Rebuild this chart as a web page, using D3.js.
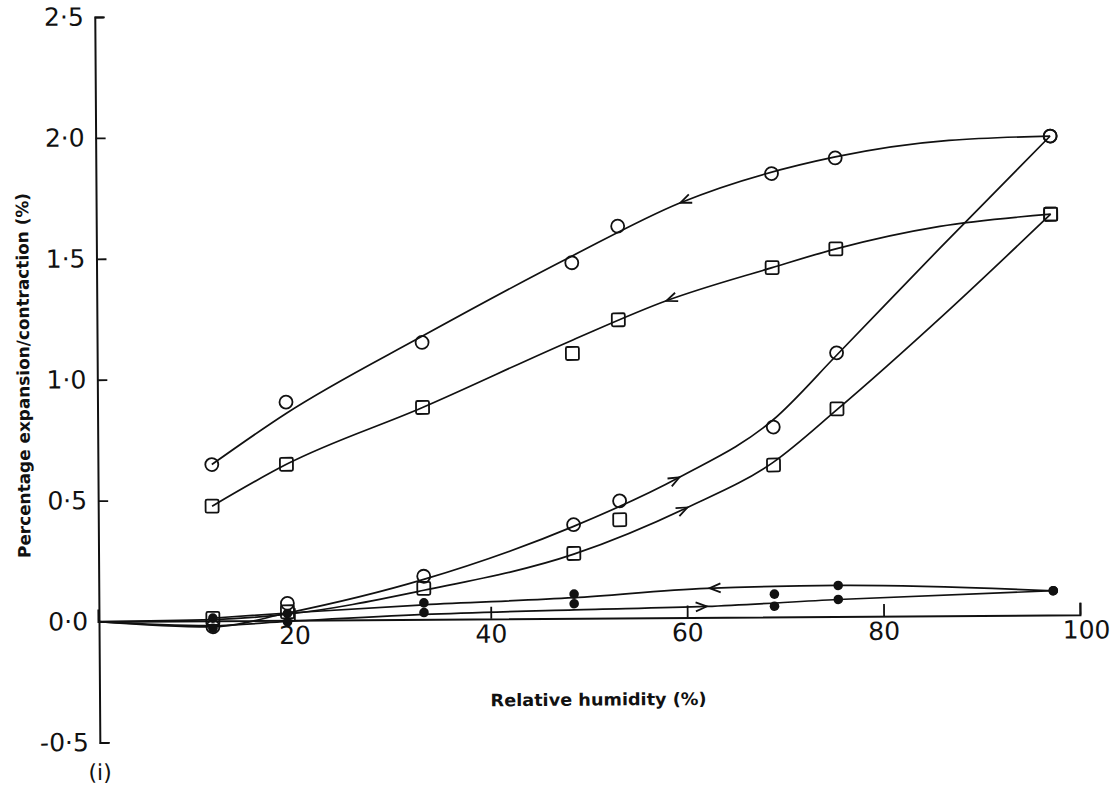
<!DOCTYPE html>
<html lang="en">
<head>
<meta charset="UTF-8">
<title>Percentage expansion/contraction vs relative humidity</title>
<script src="https://d3js.org/d3.v7.min.js"></script>
<style>
  body { margin: 0; background: #fff; }
  svg text { font-family: "DejaVu Sans", sans-serif; fill: #111; }
</style>
</head>
<body>
<svg id="chart" width="1120" height="794"></svg>
<script>
// relative humidities of the test atmospheres (%)
const rh = [11.7, 19.3, 33.2, 48.5, 53.2, 68.9, 75.4, 97.3];
const rhDots = [11.7, 19.3, 33.2, 48.5, 68.9, 75.4, 97.3];

// measured points, percentage expansion/contraction
const circleDes = [0.646, 0.902, 1.145, 1.47, 1.62, 1.833, 1.896, 1.98];
const circleSor = [-0.025, 0.07, 0.178, 0.387, 0.484, 0.785, 1.09, 1.98];
const squareDes = [0.474, 0.645, 0.876, 1.095, 1.233, 1.444, 1.52, 1.657];
const squareSor = [0.01, 0.035, 0.128, 0.268, 0.406, 0.628, 0.858, 1.657];
const dotDes = [0.011, 0.028, 0.068, 0.10, 0.094, 0.128, 0.10];
const dotSor = [-0.031, -0.007, 0.028, 0.06, 0.044, 0.07, 0.10];

// hand drawn curves through the points [rh, value]
const circleDesFit = [[11.7,0.646],[19.3,0.855],[33.2,1.17],[48.5,1.497],[59.6,1.715],[75.4,1.9],[87,1.965],[97.3,1.98]];
const squareDesFit = [[11.7,0.474],[19.3,0.645],[33.2,0.876],[48.5,1.15],[58.1,1.31],[68.9,1.444],[75.4,1.52],[86,1.61],[97.3,1.657]];
const circleSorFit = [[0,0],[11.7,-0.025],[19.3,0.03],[33.2,0.165],[48.5,0.38],[59.3,0.58],[68.9,0.815],[75.4,1.08],[86,1.52],[97.3,1.98]];
const squareSorFit = [[0,0],[11.7,0.005],[19.3,0.025],[33.2,0.12],[48.5,0.265],[60.1,0.455],[68.9,0.64],[75.4,0.855],[86.5,1.25],[97.3,1.657]];
const dotDesFit = [[11.7,0.011],[19.3,0.03],[33.2,0.06],[48.5,0.085],[62,0.12],[75.4,0.128],[97.3,0.10]];
const dotSorFit = [[0,0],[11.7,-0.02],[19.3,-0.005],[33.2,0.02],[48.5,0.035],[62,0.045],[75.4,0.07],[97.3,0.10]];

const xTicks = [20, 40, 60, 80, 100];
const yTicks = [-0.5, 0, 0.5, 1.0, 1.5, 2.0, 2.5];

const svg = d3.select("#chart");
const x = d3.scaleLinear().domain([0, 100]).range([98, 1080]);
const y = d3.scaleLinear().domain([-0.5, 2.5]).range([742.5, 17]);

// the original scan sits slightly askew
const plot = svg.append("g")
    .attr("transform", "rotate(-0.4," + x(0) + "," + y(0) + ")");

const fmt = v => (v < 0 ? "-" : "") + Math.abs(v).toFixed(1).replace(".", "\u00b7");

// y axis: ticks inside, labels outside
const yAxis = plot.append("g")
    .attr("transform", "translate(" + (x(0) + 1) + ",0)")
    .call(d3.axisLeft(y).tickValues(yTicks).tickFormat(fmt)
        .tickSizeInner(-10).tickSizeOuter(-9).tickPadding(11));

// x axis along zero
const xAxis = plot.append("g")
    .attr("transform", "translate(0," + y(0) + ")")
    .call(d3.axisBottom(x).tickValues(xTicks)
        .tickSizeInner(-12).tickSizeOuter(-12).tickPadding(6));

[yAxis, xAxis].forEach(a => {
    a.select(".domain").attr("stroke", "#111").attr("stroke-width", 2);
    a.selectAll(".tick line").attr("stroke", "#111").attr("stroke-width", 1.8);
    a.selectAll(".tick text").attr("font-size", 25).attr("fill", "#111")
        .attr("font-family", "DejaVu Sans, sans-serif");
});
xAxis.selectAll(".tick text").filter(d => d === 100).attr("dx", 6);

// curves with direction arrows
const line = d3.line()
    .x(d => x(d[0]))
    .y(d => y(d[1]))
    .curve(d3.curveMonotoneX);

const curves = [
    { pts: circleDesFit, arrow: 59.6, dir: -1 },
    { pts: squareDesFit, arrow: 58.1, dir: -1 },
    { pts: circleSorFit, arrow: 59.3, dir: 1 },
    { pts: squareSorFit, arrow: 60.1, dir: 1 },
    { pts: dotDesFit, arrow: 62.3, dir: -1 },
    { pts: dotSorFit, arrow: 62, dir: 1 }
];

curves.forEach(c => {
    const path = plot.append("path")
        .datum(c.pts)
        .attr("d", line)
        .attr("fill", "none")
        .attr("stroke", "#111")
        .attr("stroke-width", 1.7);

    // find the point on the curve at the arrow's humidity
    const node = path.node();
    const xt = x(c.arrow);
    let lo = 0, hi = node.getTotalLength();
    for (let i = 0; i < 30; i++) {
        const mid = (lo + hi) / 2;
        if (node.getPointAtLength(mid).x < xt) lo = mid; else hi = mid;
    }
    const p = node.getPointAtLength(lo);
    const a = node.getPointAtLength(lo - 4);
    const b = node.getPointAtLength(lo + 4);
    let ang = Math.atan2(b.y - a.y, b.x - a.x) * 180 / Math.PI;
    if (c.dir < 0) ang += 180;

    plot.append("path")
        .attr("d", "M-11,-4.5L0,0L-11,4.5")
        .attr("transform", "translate(" + p.x + "," + p.y + ") rotate(" + ang + ")")
        .attr("fill", "none")
        .attr("stroke", "#111")
        .attr("stroke-width", 1.8);
});

// markers
const circles = rh.map((h, i) => [h, circleDes[i]]).concat(rh.map((h, i) => [h, circleSor[i]]));
const squares = rh.map((h, i) => [h, squareDes[i]]).concat(rh.map((h, i) => [h, squareSor[i]]));
const dots = rhDots.map((h, i) => [h, dotDes[i]]).concat(rhDots.map((h, i) => [h, dotSor[i]]));

plot.selectAll(".open-circle")
    .data(circles)
    .enter()
    .append("circle")
    .attr("class", "open-circle")
    .attr("cx", d => x(d[0]))
    .attr("cy", d => y(d[1]))
    .attr("r", 6.5)
    .attr("fill", "none")
    .attr("stroke", "#111")
    .attr("stroke-width", 1.8);

plot.selectAll(".open-square")
    .data(squares)
    .enter()
    .append("rect")
    .attr("class", "open-square")
    .attr("x", d => x(d[0]) - 6.5)
    .attr("y", d => y(d[1]) - 6.5)
    .attr("width", 13)
    .attr("height", 13)
    .attr("rx", 1.5)
    .attr("fill", "none")
    .attr("stroke", "#111")
    .attr("stroke-width", 1.8);

plot.selectAll(".dot")
    .data(dots)
    .enter()
    .append("circle")
    .attr("class", "dot")
    .attr("cx", d => x(d[0]))
    .attr("cy", d => y(d[1]))
    .attr("r", 4.8)
    .attr("fill", "#111");

// axis titles
plot.append("text")
    .attr("transform", "translate(25,375) rotate(-90)")
    .attr("text-anchor", "middle")
    .attr("dominant-baseline", "central")
    .attr("font-size", 17)
    .attr("font-weight", "bold")
    .attr("textLength", 365)
    .attr("lengthAdjust", "spacingAndGlyphs")
    .text("Percentage expansion/contraction (%)");

plot.append("text")
    .attr("x", 598)
    .attr("y", 709)
    .attr("text-anchor", "middle")
    .attr("font-size", 17)
    .attr("font-weight", "bold")
    .attr("textLength", 216)
    .attr("lengthAdjust", "spacingAndGlyphs")
    .text("Relative humidity (%)");

plot.append("text")
    .attr("x", 99)
    .attr("y", 780)
    .attr("text-anchor", "middle")
    .attr("font-size", 22)
    .text("(i)");
</script>
</body>
</html>
